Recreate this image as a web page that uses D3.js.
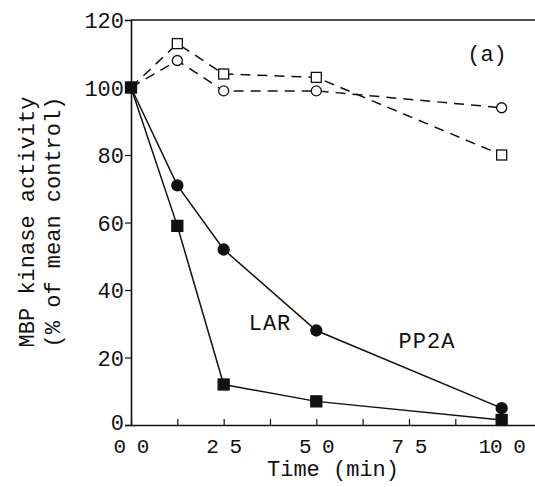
<!DOCTYPE html>
<html>
<head>
<meta charset="utf-8">
<script src="https://cdn.jsdelivr.net/npm/d3@7"></script>
<style>
  body { margin: 0; background: #fff; }
  svg text { font-family: "Liberation Mono", "DejaVu Sans Mono", monospace; fill: #111; }
</style>
</head>
<body>
<div id="chart"></div>
<script>
const width = 535;
const height = 487;

// Data ////////////////////////////////////////////
const times = [0, 12.5, 25, 50, 100];
const openSquares = [100, 113, 104, 103, 80];
const openCircles = [100, 108, 99, 99, 94];
const pp2a = [100, 71, 52, 28, 5];
const lar = [100, 59, 12, 7, 1.5];
const xTicks = [0, 25, 50, 75, 100];
const xTickLabels = ["0 0", "2 5", "5 0", "7 5", "10 0"];
const yTicks = [0, 20, 40, 60, 80, 100, 120];

// Scales //////////////////////////////////////////
const margin = { left: 131, top: 20, bottom: 62 };
const x = d3.scaleLinear().domain([0, 109]).range([margin.left, width]);
const y = d3.scaleLinear().domain([0, 120]).range([height - margin.bottom, margin.top]);

const svg = d3.select("#chart").append("svg")
  .attr("width", width).attr("height", height);

// frame: top line
svg.append("line")
  .attr("x1", x(0)).attr("x2", width)
  .attr("y1", y(120)).attr("y2", y(120))
  .attr("stroke", "#111").attr("stroke-width", 1.6);

// Axes ////////////////////////////////////////////
const xAxis = svg.append("g")
  .attr("transform", `translate(0,${y(0)})`)
  .call(d3.axisBottom(x)
    .tickValues(d3.range(0, 109, 12.5))
    .tickSizeInner(-6).tickSizeOuter(0)
    .tickFormat(""));
xAxis.select(".domain").attr("stroke", "#111").attr("stroke-width", 1.6);
xAxis.selectAll(".tick line").attr("stroke", "#111").attr("stroke-width", 1.2);

svg.append("g").selectAll("text")
  .data(xTicks)
  .join("text")
  .attr("x", d => x(d))
  .attr("y", y(0) + 28)
  .attr("text-anchor", "middle")
  .style("font-size", "21px")
  .style("letter-spacing", "-1px")
  .text((d, i) => xTickLabels[i]);

const yAxis = svg.append("g")
  .attr("transform", `translate(${x(0)},0)`)
  .call(d3.axisLeft(y).tickValues(yTicks).tickSize(6).tickPadding(1));
yAxis.select(".domain").attr("stroke", "#111").attr("stroke-width", 1.6);
yAxis.selectAll(".tick line").attr("stroke", "#111").attr("stroke-width", 1.2);
yAxis.selectAll(".tick text")
  .style("font-size", "22px")
  .attr("dy", d => d === 0 ? "0.2em" : "0.36em");

// Axis titles ///////////////////////////////////
svg.append("text")
  .attr("x", 333).attr("y", 476)
  .attr("text-anchor", "middle")
  .style("font-size", "22px")
  .text("Time (min)");

const yTitle = svg.append("g")
  .attr("transform", "translate(0,222) rotate(-90)")
  .attr("text-anchor", "middle")
  .style("font-size", "22px");
yTitle.append("text").attr("x", 0).attr("y", 34).text("MBP kinase activity");
yTitle.append("text").attr("x", 0).attr("y", 60).text("(% of mean control)");

// Lines ////////////////////////////////////////
const line = d3.line().x((d, i) => x(times[i])).y(d => y(d));

const series = [
  { values: openSquares, dashed: true, shape: "square", filled: false },
  { values: openCircles, dashed: true, shape: "circle", filled: false },
  { values: pp2a, dashed: false, shape: "circle", filled: true },
  { values: lar, dashed: false, shape: "square", filled: true }
];

series.forEach(s => {
  svg.append("path")
    .datum(s.values)
    .attr("d", line)
    .attr("fill", "none")
    .attr("stroke", "#111")
    .attr("stroke-width", 1.5)
    .attr("stroke-dasharray", s.dashed ? "10,7" : null);
});

series.forEach(s => {
  const g = svg.append("g");
  const fill = s.filled ? "#111" : "#fff";
  if (s.shape === "circle") {
    g.selectAll("circle")
      .data(s.values)
      .join("circle")
      .attr("cx", (d, i) => x(times[i]))
      .attr("cy", d => y(d))
      .attr("r", s.filled ? 5.5 : 5)
      .attr("fill", fill)
      .attr("stroke", "#111")
      .attr("stroke-width", 1.3);
  } else {
    const sz = s.filled ? 11 : 10;
    g.selectAll("rect")
      .data(s.values)
      .join("rect")
      .attr("x", (d, i) => x(times[i]) - sz / 2)
      .attr("y", d => y(d) - sz / 2)
      .attr("width", sz).attr("height", sz)
      .attr("fill", fill)
      .attr("stroke", "#111")
      .attr("stroke-width", 1.3);
  }
});

// Labels ///////////////////////////////////////
svg.append("text").attr("x", 427).attr("y", 348)
  .attr("text-anchor", "middle").style("font-size", "22px")
  .style("letter-spacing", "1px").text("PP2A");
svg.append("text").attr("x", 270).attr("y", 330)
  .attr("text-anchor", "middle").style("font-size", "22px")
  .style("letter-spacing", "1px").text("LAR");
svg.append("text").attr("x", 487).attr("y", 61)
  .attr("text-anchor", "middle").style("font-size", "22px")
  .text("(a)");
</script>
</body>
</html>
